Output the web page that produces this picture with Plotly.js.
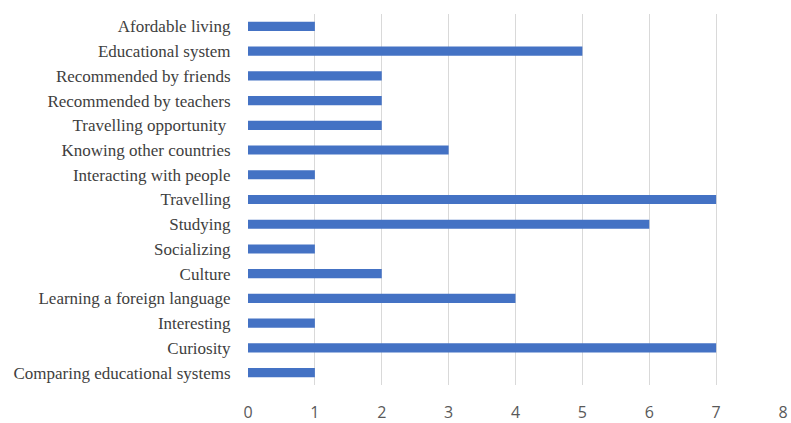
<!DOCTYPE html>
<html>
<head>
<meta charset="utf-8">
<script src="https://cdn.plot.ly/plotly-3.0.1.min.js"></script>
<style>html,body{margin:0;padding:0;background:#fff;}#chart{width:791px;height:423px;}</style>
</head>
<body>
<div id="chart"></div>
<script>
const categories = [
  "Afordable living",
  "Educational system",
  "Recommended by friends",
  "Recommended by teachers",
  "Travelling opportunity\u00a0",
  "Knowing other countries",
  "Interacting with people",
  "Travelling",
  "Studying",
  "Socializing",
  "Culture",
  "Learning a foreign language",
  "Interesting",
  "Curiosity",
  "Comparing educational systems"
];
const values = [1, 5, 2, 2, 2, 3, 1, 7, 6, 1, 2, 4, 1, 7, 1];
const xTicks = [0, 1, 2, 3, 4, 5, 6, 7, 8];

const trace = {
  type: 'bar',
  orientation: 'h',
  y: categories,
  x: values,
  marker: {color: '#4472c4'},
  width: 0.37,
  hoverinfo: 'none'
};

const layout = {
  width: 791,
  height: 423,
  margin: {l: 248, r: 8, t: 14, b: 38},
  paper_bgcolor: '#ffffff',
  plot_bgcolor: '#ffffff',
  showlegend: false,
  xaxis: {
    range: [0, 8],
    tickvals: xTicks,
    ticktext: xTicks.map(String),
    showgrid: true,
    gridcolor: '#d9d9d9',
    gridwidth: 1,
    zeroline: false,
    showline: false,
    ticks: 'outside',
    ticklen: 13,
    tickcolor: 'rgba(0,0,0,0)',
    tickfont: {family: 'Open Sans, Liberation Sans, sans-serif', size: 16, color: '#595959'},
    fixedrange: true
  },
  yaxis: {
    autorange: 'reversed',
    type: 'category',
    showgrid: false,
    zeroline: false,
    showline: false,
    ticks: 'outside',
    ticklen: 13,
    tickcolor: 'rgba(0,0,0,0)',
    tickfont: {family: 'Liberation Serif, Times New Roman, serif', size: 17, color: '#404040'},
    fixedrange: true
  }
};

Plotly.newPlot('chart', [trace], layout, {staticPlot: true, displayModeBar: false});
</script>
</body>
</html>
